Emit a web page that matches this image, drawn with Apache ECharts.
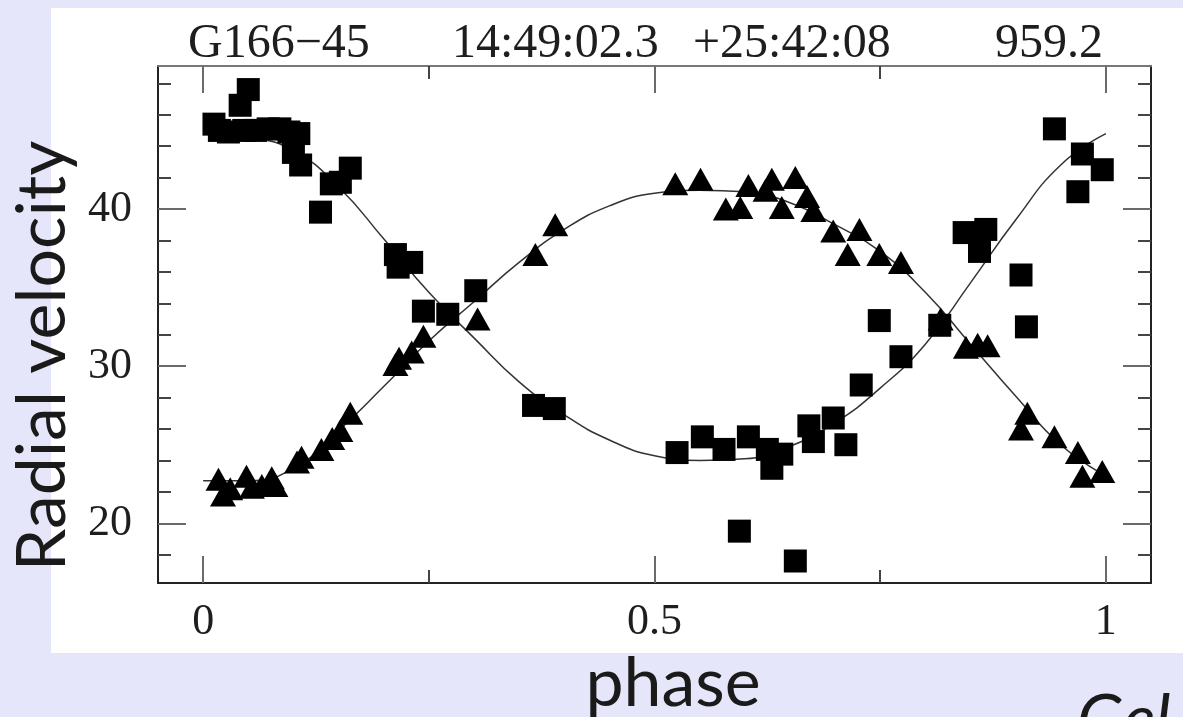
<!DOCTYPE html>
<html>
<head>
<meta charset="utf-8">
<title>G166-45 radial velocity curve</title>
<script src="https://cdn.jsdelivr.net/npm/echarts@6/dist/echarts.min.js"></script>
<style>
  html, body { margin: 0; padding: 0; background: #e6e6fa; }
  #chart { width: 1183px; height: 717px; }
</style>
</head>
<body>
<div id="chart"></div>
<script>
// Header line above the plot: star name, RA, Dec, period
const headerTexts = ['G166\u221245', '14:49:02.3', '+25:42:08', '959.2'];

// Component A (squares): orbital phase and radial velocity
const squarePhase = [0.012, 0.018, 0.028, 0.041, 0.050, 0.045, 0.058, 0.072, 0.085, 0.095,
  0.106, 0.100, 0.108, 0.130, 0.142, 0.152, 0.163, 0.213, 0.216, 0.231,
  0.244, 0.271, 0.302, 0.366, 0.389, 0.525, 0.553, 0.577, 0.594, 0.604,
  0.625, 0.630, 0.641, 0.656, 0.671, 0.676, 0.698, 0.712, 0.729, 0.749,
  0.773, 0.816, 0.843, 0.860, 0.867, 0.906, 0.912, 0.943, 0.969, 0.974, 0.996];
const squareVel = [45.4, 45.0, 44.9, 46.6, 47.6, 45.0, 45.0, 45.1, 45.1, 44.9,
  44.8, 43.6, 42.8, 39.8, 41.6, 41.7, 42.6, 37.1, 36.3, 36.6,
  33.5, 33.3, 34.8, 27.5, 27.3, 24.5, 25.5, 24.7, 19.5, 25.5,
  24.7, 23.5, 24.4, 17.6, 26.2, 25.2, 26.7, 25.0, 28.8, 32.9,
  30.6, 32.6, 38.5, 37.3, 38.7, 35.8, 32.5, 45.1, 41.1, 43.5, 42.5];

// Component B (triangles): orbital phase and radial velocity
const trianglePhase = [0.017, 0.022, 0.030, 0.048, 0.054, 0.065, 0.076, 0.080, 0.104, 0.109,
  0.131, 0.143, 0.152, 0.163, 0.213, 0.217, 0.231, 0.244, 0.304, 0.368,
  0.390, 0.523, 0.551, 0.579, 0.595, 0.604, 0.623, 0.630, 0.641, 0.656,
  0.669, 0.676, 0.698, 0.714, 0.727, 0.749, 0.773, 0.817, 0.845, 0.858,
  0.869, 0.906, 0.913, 0.943, 0.969, 0.974, 0.996];
const triangleVel = [22.8, 21.8, 22.2, 23.0, 22.3, 22.4, 22.9, 22.4, 23.9, 24.2,
  24.7, 25.4, 25.9, 27.0, 30.1, 30.5, 30.9, 31.9, 33.0, 37.1,
  39.0, 41.6, 41.9, 40.0, 40.1, 41.5, 41.2, 41.9, 40.1, 42.0,
  40.8, 39.9, 38.6, 37.1, 38.7, 37.1, 36.6, 33.0, 31.2, 31.4,
  31.3, 26.0, 27.0, 25.5, 24.5, 23.0, 23.3];

// Orbital solution curves sampled along phase
const fitPhase = [0, 0.05, 0.1, 0.15, 0.2, 0.25, 0.3, 0.35, 0.4, 0.45, 0.5,
  0.55, 0.6, 0.65, 0.7, 0.75, 0.8, 0.85, 0.9, 0.95, 1.0];
const squareFit = [44.9, 44.6, 43.7, 41.4, 38.1, 34.7, 31.8, 29.0, 26.9, 25.3, 24.3,
  24.0, 24.1, 24.9, 26.4, 28.6, 31.4, 35.3, 39.3, 42.8, 44.8];
const triangleFit = [22.7, 22.7, 23.5, 25.9, 28.7, 31.6, 34.1, 36.6, 38.7, 40.2, 41.0,
  41.2, 41.1, 40.4, 39.0, 37.3, 34.7, 31.4, 28.1, 25.0, 23.0];

// Tick positions
const xMajorTicks = [0, 0.5, 1];
const xMinorTicks = [0.25, 0.75];
const yMajorTicks = [20, 30, 40];
const yMinorTicks = [18, 22, 24, 26, 28, 32, 34, 36, 38, 42, 44, 46, 48];

const X_MIN = -0.05, X_MAX = 1.05;
const Y_MIN = 16.2, Y_MAX = 49.1;

const zip = (xs, ys) => xs.map((x, i) => [x, ys[i]]);

const tickFont = { fontFamily: 'Liberation Serif', fontSize: 44, color: '#1e1e1e' };

function xAxisDef(grid, pos, ticks, len, withLabels, lineColor) {
  return {
    type: 'value', gridIndex: grid, position: pos, min: X_MIN, max: X_MAX,
    splitLine: { show: false },
    axisLine: { show: !!lineColor, onZero: false, lineStyle: { color: lineColor || '#000', width: 2 } },
    axisTick: { show: true, inside: true, length: len, customValues: ticks,
      lineStyle: { color: len > 20 ? '#6a6a6a' : '#444', width: 2 } },
    axisLabel: withLabels
      ? Object.assign({ show: true, customValues: ticks, margin: 17 }, tickFont)
      : { show: false }
  };
}

function yAxisDef(grid, pos, ticks, len, withLabels, lineColor) {
  return {
    type: 'value', gridIndex: grid, position: pos, min: Y_MIN, max: Y_MAX,
    splitLine: { show: false },
    axisLine: { show: !!lineColor, onZero: false, lineStyle: { color: lineColor || '#000', width: 2 } },
    axisTick: { show: true, inside: true, length: len, customValues: ticks,
      lineStyle: { color: len > 20 ? '#6a6a6a' : '#444', width: 2 } },
    axisLabel: withLabels
      ? Object.assign({ show: true, customValues: ticks, margin: 26 }, tickFont)
      : { show: false }
  };
}

const gridBox = { left: 158, top: 66, right: 32, bottom: 134 };

const chart = echarts.init(document.getElementById('chart'), null, { renderer: 'canvas' });

chart.setOption({
  animation: false,
  backgroundColor: '#e6e6fa',
  title: headerTexts.map((t, i) => ({
    text: t,
    left: [188, 452, 693, 995][i],
    top: 20,
    padding: 0,
    textStyle: { fontFamily: 'Liberation Serif', fontSize: 48, fontWeight: 'normal', color: '#1e1e1e' }
  })),
  graphic: [
    { type: 'rect', z: -10, silent: true,
      shape: { x: 51, y: 8, width: 1132, height: 645 },
      style: { fill: '#ffffff' } },
    { type: 'text', x: 43, y: 356, rotation: Math.PI / 2, silent: true,
      style: { text: 'Radial velocity', font: '68px Lato', fill: '#1a1a1a',
        align: 'center', verticalAlign: 'middle' } },
    { type: 'text', x: 673, y: 684, silent: true,
      style: { text: 'phase', font: '68px Lato', fill: '#1a1a1a',
        align: 'center', verticalAlign: 'middle' } },
    { type: 'text', x: 1077, y: 721, silent: true,
      style: { text: 'Gel', font: 'italic 68px Lato', fill: '#1a1a1a',
        align: 'left', verticalAlign: 'middle' } }
  ],
  grid: [Object.assign({}, gridBox), Object.assign({}, gridBox)],
  xAxis: [
    xAxisDef(0, 'bottom', xMajorTicks, 27, true, '#222'),
    xAxisDef(0, 'top', xMajorTicks, 27, false, '#777'),
    xAxisDef(1, 'bottom', xMinorTicks, 13, false, null),
    xAxisDef(1, 'top', xMinorTicks, 13, false, null)
  ],
  yAxis: [
    yAxisDef(0, 'left', yMajorTicks, 28, true, '#222'),
    yAxisDef(0, 'right', yMajorTicks, 28, false, '#222'),
    yAxisDef(1, 'left', yMinorTicks, 13, false, null),
    yAxisDef(1, 'right', yMinorTicks, 13, false, null)
  ],
  series: [
    { type: 'line', xAxisIndex: 0, yAxisIndex: 0, data: zip(fitPhase, squareFit),
      smooth: true, showSymbol: false, z: 1,
      lineStyle: { color: '#333', width: 1.5 } },
    { type: 'line', xAxisIndex: 0, yAxisIndex: 0, data: zip(fitPhase, triangleFit),
      smooth: true, showSymbol: false, z: 1,
      lineStyle: { color: '#333', width: 1.5 } },
    { type: 'scatter', xAxisIndex: 0, yAxisIndex: 0, data: zip(squarePhase, squareVel),
      symbol: 'rect', symbolSize: 23, z: 2,
      itemStyle: { color: '#000', opacity: 1 } },
    { type: 'scatter', xAxisIndex: 0, yAxisIndex: 0, data: zip(trianglePhase, triangleVel),
      symbol: 'triangle', symbolSize: [26, 23], z: 2,
      itemStyle: { color: '#000', opacity: 1 } }
  ]
});
</script>
</body>
</html>
